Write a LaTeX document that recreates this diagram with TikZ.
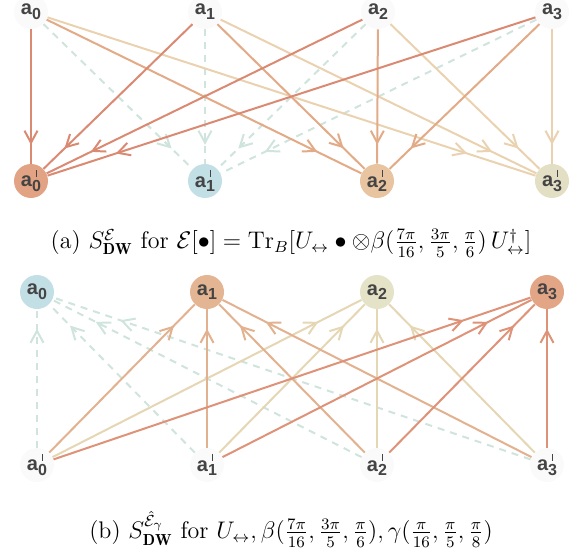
\documentclass[tikz,border=0pt]{standalone}
\usepackage{amsmath}
\usepackage{amssymb}
\usepackage{fontspec}
\usepackage{tikz}
\usetikzlibrary{arrows.meta,decorations.markings}
\newfontfamily\lblfont{Liberation Sans}
\definecolor{ink}{HTML}{444444}
\definecolor{paper}{HTML}{FAFAFA}
\definecolor{rust}{HTML}{DA8A72}
\definecolor{rustfill}{HTML}{E2A384}
\definecolor{amber}{HTML}{E2AA86}
\definecolor{amberfill}{HTML}{E8C4A0}
\definecolor{sand}{HTML}{EAD2B0}
\definecolor{sandfill}{HTML}{E3DFC4}
\definecolor{mint}{HTML}{CFE4DC}
\definecolor{sky}{HTML}{C3DFE6}
\definecolor{peach}{HTML}{E3B592}
\definecolor{olive}{HTML}{E4E3C8}
\definecolor{wheat}{HTML}{E5D6B4}
\definecolor{coral}{HTML}{DE9278}
\definecolor{corfill}{HTML}{E2A687}
\newcommand{\unp}[1]{a\raisebox{-0.45ex}{\footnotesize #1}}
\newcommand{\pri}[1]{a\raisebox{-0.45ex}{\footnotesize\rlap{\kern1.75pt\raisebox{7.4pt}{\rule{0.9pt}{3.4pt}}}#1}}

\begin{document}
\begin{tikzpicture}[x=0.5pt,y=-0.5pt,
   vtx/.style={circle,minimum size=17pt,inner sep=0pt,font=\lblfont\bfseries\color{ink}},
   edge/.style={line width=1pt,postaction={decorate},
     decoration={markings,mark=at position 0.86 with {\arrow{Straight Barb[length=6pt,width=6.5pt,line width=1pt]}}}},
   ghost/.style={edge,mint,dash pattern=on 3.5pt off 3pt}]
  \useasboundingbox (0,0) rectangle (581,550);
  % (a) upper graph
  \node[vtx,fill=paper] (a0) at (31,12) {\unp{0}};
  \node[vtx,fill=paper] (a1) at (205,12) {\unp{1}};
  \node[vtx,fill=paper] (a2) at (378,12) {\unp{2}};
  \node[vtx,fill=paper] (a3) at (552,12) {\unp{3}};
  \node[vtx,fill=rustfill] (b0) at (31,181) {\pri{0}};
  \node[vtx,fill=sky] (b1) at (205,181) {\pri{1}};
  \node[vtx,fill=amberfill] (b2) at (377,181) {\pri{2}};
  \node[vtx,fill=sandfill] (b3) at (552,181) {\pri{3}};
  \foreach \s in {0,...,3} \draw[ghost] (a\s) -- (b1);
  \foreach \s in {0,...,3} \draw[edge,sand] (a\s) -- (b3);
  \foreach \s in {0,...,3} \draw[edge,amber] (a\s) -- (b2);
  \foreach \s in {0,...,3} \draw[edge,rust] (a\s) -- (b0);
  \node[font=\large] (capa) at (291,243) {(a) $S^{\mathcal{E}}_{\mathbf{DW}}$ for $\mathcal{E}[\bullet]=\mathrm{Tr}_B[U_{\leftrightarrow}\bullet\otimes\beta(\frac{7\pi}{16},\frac{3\pi}{5},\frac{\pi}{6})\,U^{\dagger}_{\leftrightarrow}]$};
  % (b) lower graph
  \node[vtx,fill=sky] (c0) at (37,292) {\unp{0}};
  \node[vtx,fill=peach] (c1) at (207,292) {\unp{1}};
  \node[vtx,fill=olive] (c2) at (377,292) {\unp{2}};
  \node[vtx,fill=corfill] (c3) at (547,292) {\unp{3}};
  \node[vtx,fill=paper] (d0) at (37,465) {\pri{0}};
  \node[vtx,fill=paper] (d1) at (207,465) {\pri{1}};
  \node[vtx,fill=paper] (d2) at (377,465) {\pri{2}};
  \node[vtx,fill=paper] (d3) at (547,465) {\pri{3}};
  \foreach \s in {0,...,3} \draw[ghost] (d\s) -- (c0);
  \foreach \s in {0,...,3} \draw[edge,wheat] (d\s) -- (c2);
  \foreach \s in {0,...,3} \draw[edge,peach!90!rust] (d\s) -- (c1);
  \foreach \s in {0,...,3} \draw[edge,coral] (d\s) -- (c3);
  \node[font=\large] (capb) at (291,529) {(b) $S^{\hat{\mathcal{E}}_{\gamma}}_{\mathbf{DW}}$ for $U_{\leftrightarrow},\beta(\frac{7\pi}{16},\frac{3\pi}{5},\frac{\pi}{6}),\gamma(\frac{\pi}{16},\frac{\pi}{5},\frac{\pi}{8})$};
\end{tikzpicture}
\end{document}
